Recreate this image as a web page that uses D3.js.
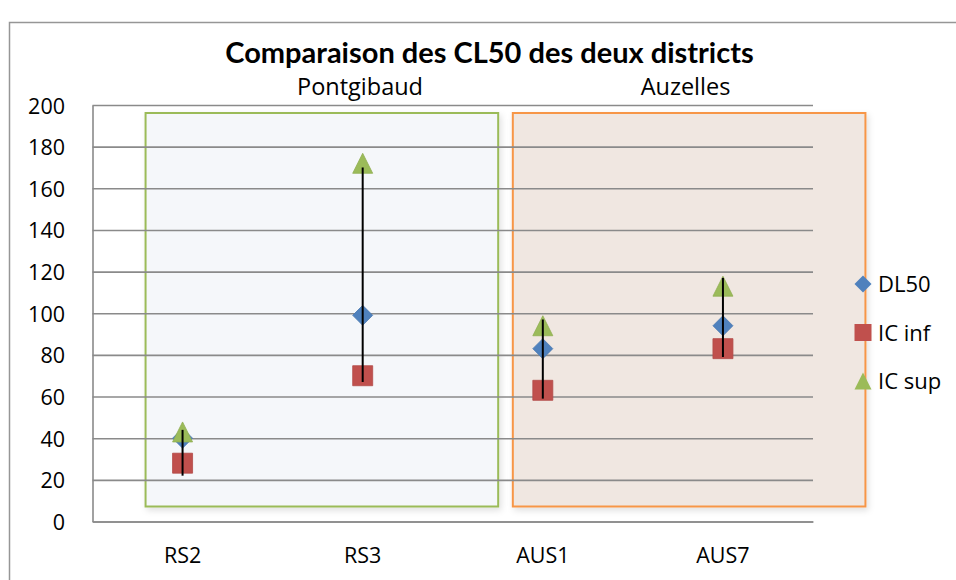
<!DOCTYPE html>
<html>
<head>
<meta charset="utf-8">
<script src="https://cdn.jsdelivr.net/npm/d3@7"></script>
<style>
  html, body { margin: 0; padding: 0; background: #fff; }
  svg { display: block; font-family: "Open Sans", Lato, sans-serif; }
</style>
</head>
<body>
<svg id="chart" width="956" height="580"></svg>
<script>
// Sites and the CL50 estimate with its confidence bounds
const categories = ["RS2", "RS3", "AUS1", "AUS7"];
const dl50  = [40, 99, 83, 94];
const icInf = [28, 70, 63, 83];
const icSup = [43, 172, 94, 113];
// vertical interval drawn through each site
const barLow  = [22, 67, 59, 79];
const barHigh = [44, 170, 97, 117];
const yTicks = [0, 20, 40, 60, 80, 100, 120, 140, 160, 180, 200];

// district panels, spanning from the first to the last site of each district
const districts = [
  { name: "Pontgibaud", from: "RS2",  to: "RS3",  padL: 37, padR: 135.5, labelX: 360, fill: "#f5f7fa", stroke: "#9bbb59" },
  { name: "Auzelles",   from: "AUS1", to: "AUS7", padL: 30, padR: 142.5, labelX: 685.5, fill: "#f0e7e1", stroke: "#f79646" }
];

const series = [
  { name: "DL50",   values: dl50,  color: "#4f81bd", shape: "diamond" },
  { name: "IC inf", values: icInf, color: "#c0504d", shape: "square" },
  { name: "IC sup", values: icSup, color: "#9bbb59", shape: "triangle" }
];

const svg = d3.select("#chart");
const plot = { left: 92.5, right: 813, top: 105, bottom: 521.5 };

const x = d3.scaleBand().domain(categories).range([plot.left, plot.right]);
const y = d3.scaleLinear().domain([0, 200]).range([plot.bottom, plot.top]);
const cx = c => x(c) + x.bandwidth() / 2;

function shapePath(shape, r) {
  if (shape === "diamond") return `M0,${-r}L${r},0L0,${r}L${-r},0Z`;
  if (shape === "square") return `M${-r},${-r}H${r}V${r}H${-r}Z`;
  return `M0,${-r}L${r},${r}L${-r},${r}Z`;
}

// soft shadow under the panels
const defs = svg.append("defs");
const f = defs.append("filter").attr("id", "shadow")
  .attr("x", "-5%").attr("y", "-5%").attr("width", "112%").attr("height", "112%");
f.append("feDropShadow").attr("dx", 2).attr("dy", 3).attr("stdDeviation", 3)
  .attr("flood-color", "#000").attr("flood-opacity", 0.12);

// outer chart frame
svg.append("rect").attr("x", 9.5).attr("y", 22.5).attr("width", 980).attr("height", 600)
  .attr("fill", "none").attr("stroke", "#969696").attr("stroke-width", 1.5);

// title
svg.append("text").attr("x", 489.5).attr("y", 62.5).attr("text-anchor", "middle")
  .attr("font-family", "Lato, sans-serif")
  .attr("font-size", 29).attr("font-weight", "bold").attr("fill", "#000")
  .text("Comparaison des CL50 des deux districts");

// panels behind the data
const panels = svg.append("g");
districts.forEach(d => {
  const x0 = cx(d.from) - d.padL;
  const x1 = cx(d.to) + d.padR;
  const y0 = y(200) + 8;
  const y1 = y(0) - 15;
  panels.append("rect")
    .attr("x", x0).attr("y", y0).attr("width", x1 - x0).attr("height", y1 - y0)
    .attr("fill", d.fill).attr("stroke", d.stroke).attr("stroke-width", 2)
    .attr("filter", "url(#shadow)");
  svg.append("text")
    .attr("x", d.labelX).attr("y", 95).attr("text-anchor", "middle")
    .attr("font-size", 23.5).attr("fill", "#000").text(d.name);
});

// horizontal gridlines
svg.append("g")
  .attr("transform", `translate(${plot.left},0)`)
  .call(d3.axisLeft(y).tickValues(yTicks).tickSize(-(plot.right - plot.left)).tickFormat(""))
  .call(g => g.select(".domain").remove())
  .call(g => g.selectAll("line").attr("stroke", "#8a8a8a").attr("stroke-width", 1.6));

// y axis
svg.append("g")
  .attr("transform", `translate(${plot.left},0)`)
  .call(d3.axisLeft(y).tickValues(yTicks).tickSize(0).tickPadding(27.5))
  .call(g => g.select(".domain").attr("stroke", "#8a8a8a").attr("stroke-width", 1.6))
  .call(g => g.selectAll("text").attr("dy", null).attr("y", 8)
    .attr("font-size", 21.5).attr("fill", "#000").attr("font-family", "'Open Sans', sans-serif"));

// x axis
svg.append("g")
  .attr("transform", `translate(0,${plot.bottom})`)
  .call(d3.axisBottom(x).tickSize(0))
  .call(g => g.select(".domain").attr("stroke", "#8a8a8a").attr("stroke-width", 1.6))
  .call(g => g.selectAll("text").attr("dy", null).attr("y", 41)
    .attr("font-size", 21.5).attr("fill", "#000").attr("font-family", "'Open Sans', sans-serif"));

// markers
series.forEach(s => {
  svg.append("g").selectAll("path")
    .data(categories.map((c, i) => ({ c, v: s.values[i] })))
    .join("path")
    .attr("transform", d => `translate(${cx(d.c)},${y(d.v)})`)
    .attr("d", shapePath(s.shape, 10))
    .attr("fill", s.color)
    .attr("stroke", d3.color(s.color).darker(0.2))
    .attr("stroke-width", 0.8);
});

// interval lines
svg.append("g").selectAll("line")
  .data(categories.map((c, i) => ({ c, lo: barLow[i], hi: barHigh[i] })))
  .join("line")
  .attr("x1", d => cx(d.c)).attr("x2", d => cx(d.c))
  .attr("y1", d => y(d.lo)).attr("y2", d => y(d.hi))
  .attr("stroke", "#000").attr("stroke-width", 2);

// legend
const legend = svg.append("g").attr("transform", "translate(863,284)");
series.forEach((s, i) => {
  const g = legend.append("g").attr("transform", `translate(0,${i * 48.5})`);
  g.append("path").attr("d", shapePath(s.shape, 8.5)).attr("fill", s.color);
  g.append("text").attr("x", 15).attr("y", 8).attr("font-size", 22).attr("fill", "#000").text(s.name);
});
</script>
</body>
</html>
